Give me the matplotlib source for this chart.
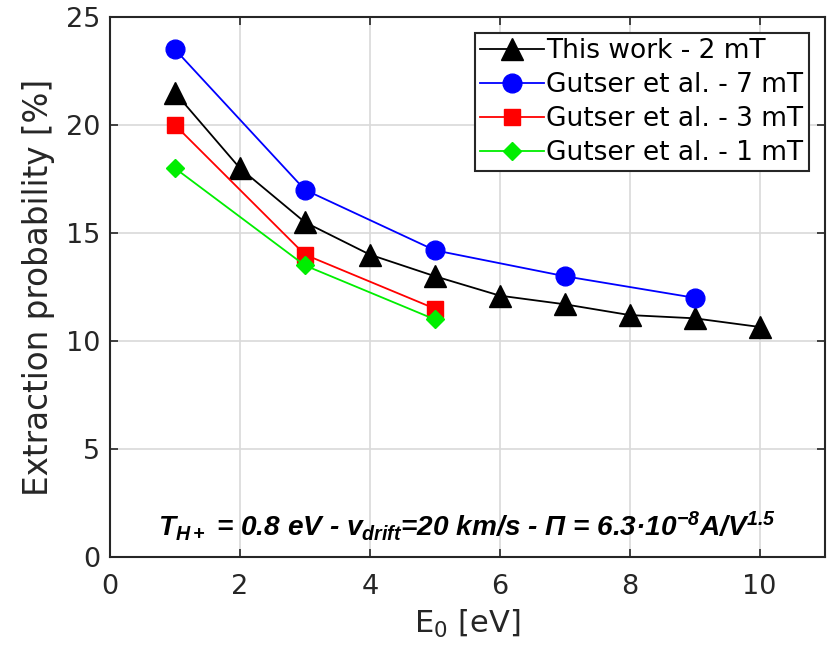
import numpy as np
import matplotlib
matplotlib.use('Agg')
import matplotlib.pyplot as plt

# data
e_this = [1, 2, 3, 4, 5, 6, 7, 8, 9, 10]
p_this = [21.5, 18.0, 15.5, 14.0, 13.0, 12.1, 11.7, 11.2, 11.05, 10.65]

e_7mT = [1, 3, 5, 7, 9]
p_7mT = [23.5, 17.0, 14.2, 13.0, 12.0]

e_3mT = [1, 3, 5]
p_3mT = [20.0, 14.0, 11.5]

e_1mT = [1, 3, 5]
p_1mT = [18.0, 13.5, 11.0]

labels = ['This work - 2 mT', 'Gutser et al. - 7 mT',
          'Gutser et al. - 3 mT', 'Gutser et al. - 1 mT']

plt.rcParams['mathtext.fontset'] = 'dejavusans'

fig = plt.figure(figsize=(8.27, 6.53), dpi=100)
ax = fig.add_axes([0.133, 0.147, 0.864, 0.827])

ax.plot(e_this, p_this, color='black', lw=1.3, marker='^', ms=16, label=labels[0])
ax.plot(e_7mT, p_7mT, color='#0000ff', lw=1.3, marker='o', ms=13.5, label=labels[1])
ax.plot(e_3mT, p_3mT, color='#ff0000', lw=1.3, marker='s', ms=11, label=labels[2])
ax.plot(e_1mT, p_1mT, color='#00ee00', lw=1.3, marker='D', ms=9.5, label=labels[3])

ax.set_xlim(0, 11)
ax.set_ylim(0, 25)
ax.set_xticks([0, 2, 4, 6, 8, 10])
ax.set_yticks([0, 5, 10, 15, 20, 25])
ax.grid(True, color='#d9d9d9', lw=1.2)
ax.set_axisbelow(True)
ax.tick_params(direction='in', top=True, right=True, length=6, width=1.2,
               labelsize=19.5, colors='#262626')
ax.tick_params(axis='x', pad=12)
ax.tick_params(axis='y', pad=7)
for s in ax.spines.values():
    s.set_linewidth(1.5)
    s.set_color('#262626')

ax.set_xlabel(r'E$_0$ [eV]', fontsize=22, color='#262626', labelpad=6)
ax.set_ylabel('Extraction probability [%]', fontsize=23.5, color='#262626', labelpad=8)

leg = ax.legend(loc='upper right', fontsize=19, fancybox=False, framealpha=1,
                edgecolor='#262626', handlelength=2.4, handletextpad=0.1,
                labelspacing=0.3, borderpad=0.2, borderaxespad=0.6)
leg.get_frame().set_linewidth(1.5)

plt.rcParams['mathtext.fontset'] = 'custom'
plt.rcParams['mathtext.it'] = 'Liberation Sans:italic:bold'
plt.rcParams['mathtext.rm'] = 'Liberation Sans:italic:bold'
ax.text(5.5, 1.45, r'$T_{H+}$ = 0.8 eV - $v_{drift}$=20 km/s - Π = 6.3·10$^{-8}$A/V$^{1.5}$',
        family='Liberation Sans', weight='bold', style='italic', fontsize=20.2,
        ha='center', va='center')

fig.savefig('out.png', dpi=100)
